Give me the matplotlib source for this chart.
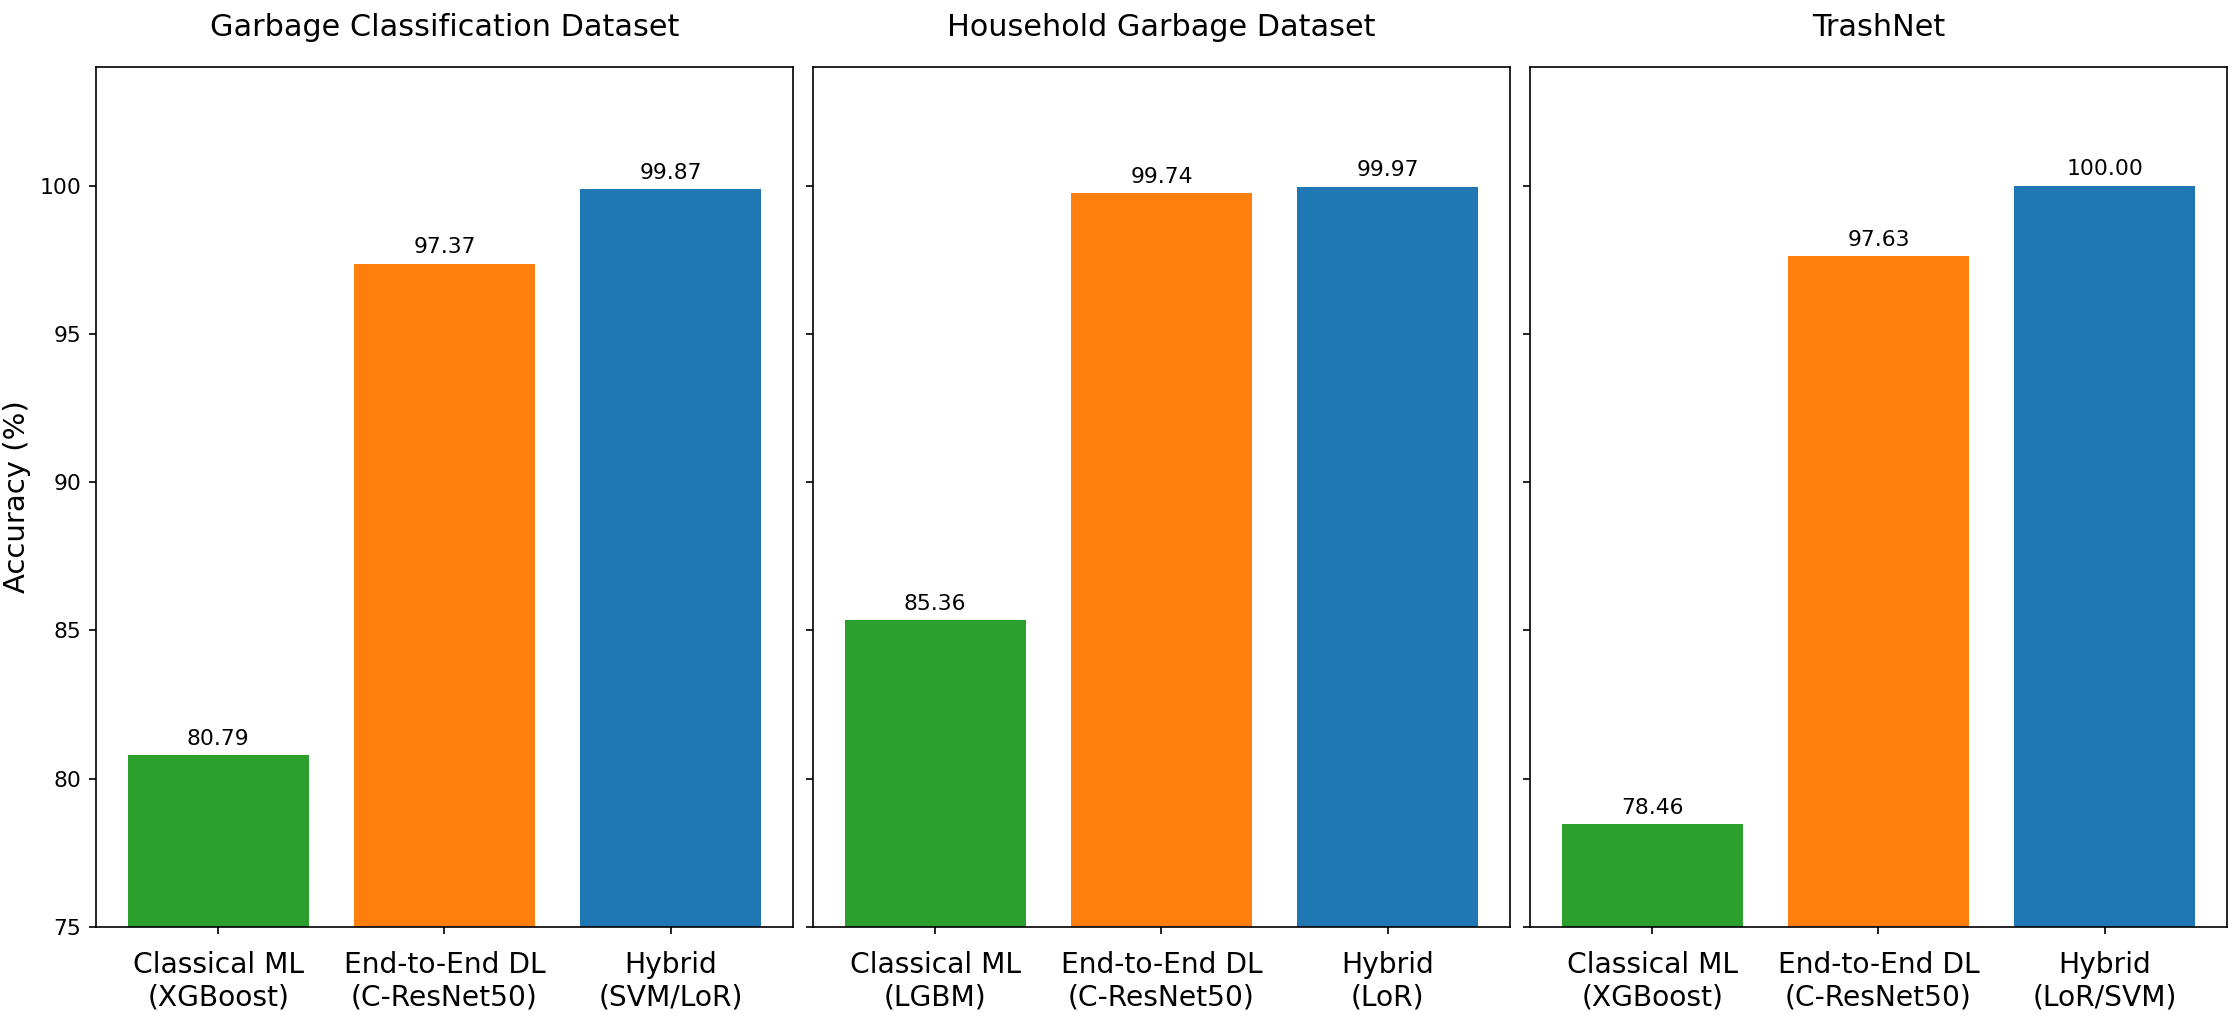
import matplotlib.pyplot as plt

datasets = ["Garbage Classification Dataset", "Household Garbage Dataset", "TrashNet"]
method_labels = [
    ["Classical ML\n(XGBoost)", "End-to-End DL\n(C-ResNet50)", "Hybrid\n(SVM/LoR)"],
    ["Classical ML\n(LGBM)", "End-to-End DL\n(C-ResNet50)", "Hybrid\n(LoR)"],
    ["Classical ML\n(XGBoost)", "End-to-End DL\n(C-ResNet50)", "Hybrid\n(LoR/SVM)"],
]
accuracy = [
    [80.79, 97.37, 99.87],
    [85.36, 99.74, 99.97],
    [78.46, 97.63, 100.00],
]
colors = ["tab:green", "tab:orange", "tab:blue"]

fig, axes = plt.subplots(1, 3, figsize=(2237 / 150, 1023 / 150), dpi=150, sharey=True)
fig.subplots_adjust(left=0.0429, right=0.9955, bottom=0.0938, top=0.9345, wspace=0.0287)

for ax, name, labels, acc in zip(axes, datasets, method_labels, accuracy):
    bars = ax.bar(range(len(acc)), acc, color=colors, width=0.8)
    ax.bar_label(bars, labels=[f"{v:.2f}" for v in acc], padding=3, fontsize=10.5)
    ax.set_xticks(range(len(acc)))
    ax.set_xticklabels(labels, fontsize=13.5)
    ax.tick_params(axis="x", pad=8)
    ax.set_title(name, fontsize=14.5, pad=15)
    ax.tick_params(axis="y", labelsize=10.5)

axes[0].set_ylim(75, 104)
axes[0].set_yticks([75, 80, 85, 90, 95, 100])
axes[0].set_ylabel("Accuracy (%)", fontsize=14)

fig.savefig("out.png", dpi=150)
